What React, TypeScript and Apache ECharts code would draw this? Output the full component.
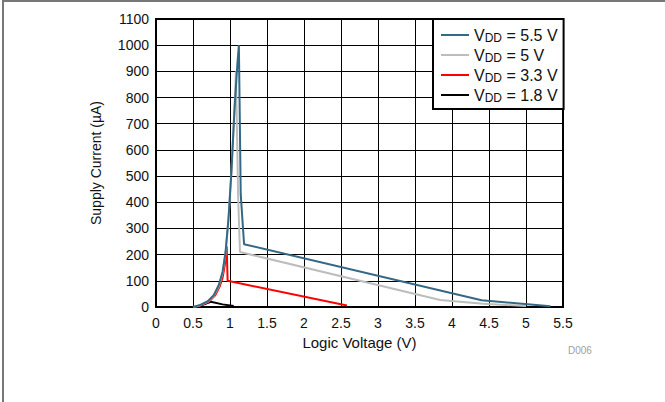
import React, { useEffect, useRef } from "react";
import * as echarts from "echarts";

const xTicks = [0, 0.5, 1, 1.5, 2, 2.5, 3, 3.5, 4, 4.5, 5, 5.5];
const seriesNames = ["VDD = 5.5 V", "VDD = 5 V", "VDD = 3.3 V", "VDD = 1.8 V"];
const seriesColors = ["#336985", "#bdbdbd", "#ff0000", "#000000"];

const vdd55: [number, number][] = [
  [0.5, 0], [0.6, 8], [0.7, 22], [0.78, 45], [0.85, 85], [0.9, 135], [0.94, 210],
  [0.98, 340], [1.02, 520], [1.06, 750], [1.1, 930], [1.12, 1000], [1.145, 430],
  [1.19, 240], [4.4, 26], [5.33, 3],
];
const vdd5: [number, number][] = [
  [0.5, 0], [0.6, 7], [0.7, 20], [0.78, 42], [0.85, 80], [0.9, 130], [0.94, 205],
  [0.98, 335], [1.02, 520], [1.06, 760], [1.08, 900], [1.11, 420], [1.135, 210],
  [3.84, 27], [4.42, 12], [5.0, 4],
];
const vdd33: [number, number][] = [
  [0.53, 0], [0.62, 8], [0.72, 22], [0.8, 45], [0.86, 78], [0.9, 112], [0.93, 160],
  [0.955, 232], [0.968, 100], [2.58, 6],
];
const vdd18: [number, number][] = [
  [0.55, 0], [0.65, 10], [0.74, 20], [0.9, 10], [1.05, 4],
];

const allData = [vdd55, vdd5, vdd33, vdd18];

export default function App() {
  const ref = useRef<HTMLDivElement>(null);
  useEffect(() => {
    if (!ref.current) return;
    const chart = echarts.init(ref.current, null, { renderer: "svg" });
    const font = "Liberation Sans, Arial, sans-serif";
    chart.setOption({
      animation: false,
      textStyle: { fontFamily: font },
      grid: { left: 156, right: 102, top: 19, bottom: 95, containLabel: false, show: true, borderColor: "#000", borderWidth: 2 },
      graphic: [
        { type: "line", shape: { x1: 3, y1: 0, x2: 3, y2: 402 }, style: { stroke: "#777", lineWidth: 2 } },
        { type: "line", shape: { x1: 3, y1: 1, x2: 665, y2: 1 }, style: { stroke: "#777", lineWidth: 2 } },
        { type: "text", left: 568, top: 345, style: { text: "D006", fill: "#a0a0a0", fontSize: 10, fontFamily: font } },
      ],
      xAxis: {
        type: "value",
        min: 0,
        max: 5.5,
        interval: 0.5,
        name: "Logic Voltage (V)",
        nameLocation: "middle",
        nameGap: 28,
        nameTextStyle: { fontSize: 15, color: "#111", fontFamily: font },
        axisLine: { show: true, onZero: false, lineStyle: { color: "#000", width: 2 } },
        axisTick: { show: false },
        axisLabel: { fontSize: 14, color: "#111", margin: 9, formatter: (v: number) => String(v) },
        splitLine: { show: true, lineStyle: { color: "#000", width: 1 } },
      },
      yAxis: {
        type: "value",
        min: 0,
        max: 1100,
        interval: 100,
        name: "Supply Current (\u00b5A)",
        nameLocation: "middle",
        nameGap: 53,
        nameTextStyle: { fontSize: 14, color: "#111", fontFamily: font },
        axisLine: { show: true, onZero: false, lineStyle: { color: "#000", width: 2 } },
        axisTick: { show: false },
        axisLabel: { fontSize: 14, color: "#111", margin: 7, formatter: (v: number) => String(v) },
        splitLine: { show: true, lineStyle: { color: "#000", width: 1 } },
      },
      legend: {
        show: true,
        orient: "vertical",
        left: 433,
        top: 19,
        padding: [7, 6, 5, 8],
        itemGap: 2,
        itemWidth: 28,
        itemHeight: 2,
        icon: "rect",
        backgroundColor: "#fff",
        borderColor: "#000",
        borderWidth: 2,
        data: seriesNames,
        formatter: (name: string) => {
          const val = name.replace("VDD = ", "");
          return `{v|V}{s|DD}{v| = ${val}}`;
        },
        textStyle: {
          fontSize: 16,
          rich: {
            v: { fontSize: 16, color: "#111", fontFamily: font, lineHeight: 16 },
            s: { fontSize: 12, color: "#111", fontFamily: font, padding: [6, 0, 0, 0], lineHeight: 16 },
          },
        },
      },
      series: allData.map((d, i) => ({
        name: seriesNames[i],
        type: "line",
        data: d,
        showSymbol: false,
        symbol: "none",
        lineStyle: { color: seriesColors[i], width: 2 },
        itemStyle: { color: seriesColors[i] },
        z: 10 - i,
      })),
    });
    return () => chart.dispose();
  }, []);
  return <div ref={ref} style={{ width: 665, height: 402, position: "absolute", left: 0, top: 0 }} />;
}
